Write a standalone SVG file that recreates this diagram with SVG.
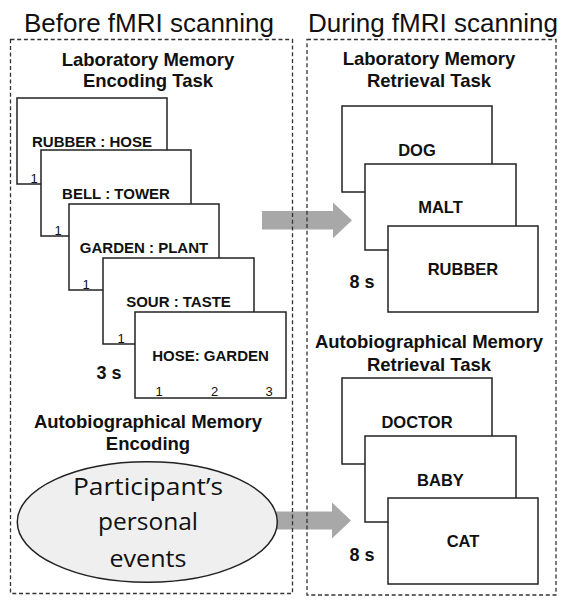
<svg xmlns="http://www.w3.org/2000/svg" width="570" height="606" viewBox="0 0 570 606">
<style>
.title{font-family:"Liberation Sans",Arial,sans-serif;font-size:26px;fill:#111;text-anchor:middle}
.head{font-family:"Liberation Sans",Arial,sans-serif;font-size:18.5px;font-weight:bold;fill:#111;text-anchor:middle}
.card{fill:#fff;stroke:#222;stroke-width:1.5}
.lw{font-family:"Liberation Sans",Arial,sans-serif;font-size:15px;font-weight:bold;fill:#111;text-anchor:middle}
.rw{font-family:"Liberation Sans",Arial,sans-serif;font-size:16.5px;font-weight:bold;fill:#111;text-anchor:middle}
.num{font-family:"Liberation Sans",Arial,sans-serif;font-size:13px;fill:#111;text-anchor:middle}
.dur{font-family:"Liberation Sans",Arial,sans-serif;font-size:18px;font-weight:bold;fill:#111;text-anchor:middle}
.dash{fill:none;stroke:#333;stroke-width:1.3;stroke-dasharray:4 2.7}
.arrow{fill:#a8a8a8}
.ell{font-family:"Open Sans","Noto Sans",sans-serif;font-size:24px;fill:#111;text-anchor:middle}
</style>
<rect width="570" height="606" fill="#fff"/>
<text class="title" x="149" y="31.5">Before fMRI scanning</text>
<text class="title" x="433" y="31.5">During fMRI scanning</text>
<g id="connectors">
<polygon class="arrow" points="262,211 333,211 333,202.5 352,220.3 333,238.3 333,229.5 262,229.5"/>
<polygon class="arrow" points="261,511.5 332,511.5 332,502.5 351,520.5 332,538.5 332,529.5 261,529.5"/>
</g>
<g id="before-panel">
<rect class="dash" x="10.5" y="39.5" width="282" height="554"/>
</g>
<g id="during-panel">
<rect class="dash" x="307" y="39.5" width="249" height="555.5"/>
</g>
<g id="lab-encoding">
<text class="head" x="148" y="65.5">Laboratory Memory</text>
<text class="head" x="148" y="87">Encoding Task</text>
<rect class="card" x="17" y="98" width="150" height="86"/>
<text class="lw" x="92" y="146.7">RUBBER : HOSE</text>
<text class="num" x="34" y="183">1</text>
<rect class="card" x="41" y="150" width="150" height="86"/>
<text class="lw" x="116" y="198.7">BELL : TOWER</text>
<text class="num" x="58" y="235">1</text>
<rect class="card" x="69" y="204" width="150" height="86"/>
<text class="lw" x="144" y="252.7">GARDEN : PLANT</text>
<text class="num" x="86" y="289">1</text>
<rect class="card" x="103" y="258" width="151" height="86"/>
<text class="lw" x="178.5" y="306.7">SOUR : TASTE</text>
<text class="num" x="121" y="343">1</text>
<rect class="card" x="135" y="312" width="151" height="86"/>
<text class="lw" x="210.5" y="360.7">HOSE: GARDEN</text>
<text class="num" x="159" y="395.7">1</text>
<text class="num" x="214.5" y="395.7">2</text>
<text class="num" x="269" y="395.7">3</text>
<text class="dur" x="109" y="379.3">3 s</text>
</g>
<g id="auto-encoding">
<text class="head" x="148" y="428.3">Autobiographical Memory</text>
<text class="head" x="148" y="450">Encoding</text>
<ellipse cx="147.3" cy="522" rx="130" ry="60.3" fill="#efefef" stroke="#222" stroke-width="1.5"/>
<text class="ell" x="148" y="495" textLength="150" lengthAdjust="spacingAndGlyphs">Participant’s</text>
<text class="ell" x="148" y="530" textLength="100" lengthAdjust="spacingAndGlyphs">personal</text>
<text class="ell" x="148" y="566.7" textLength="77" lengthAdjust="spacingAndGlyphs">events</text>
</g>
<g id="lab-retrieval">
<text class="head" x="429" y="65">Laboratory Memory</text>
<text class="head" x="429" y="87.3">Retrieval Task</text>
<rect class="card" x="342" y="106" width="150" height="86"/>
<text class="rw" x="417" y="156">DOG</text>
<rect class="card" x="365" y="164" width="151" height="86"/>
<text class="rw" x="440.5" y="213.3">MALT</text>
<rect class="card" x="388" y="226" width="150" height="86"/>
<text class="rw" x="463" y="275">RUBBER</text>
<text class="dur" x="362" y="288.3">8 s</text>
</g>
<g id="auto-retrieval">
<text class="head" x="429" y="348.3">Autobiographical Memory</text>
<text class="head" x="429" y="370.7">Retrieval Task</text>
<rect class="card" x="342" y="378" width="150" height="86"/>
<text class="rw" x="417" y="427.7">DOCTOR</text>
<rect class="card" x="365" y="436" width="151" height="86"/>
<text class="rw" x="440.5" y="486">BABY</text>
<rect class="card" x="388" y="498" width="150" height="86"/>
<text class="rw" x="463" y="547.3">CAT</text>
<text class="dur" x="362" y="560.7">8 s</text>
</g>
</svg>
